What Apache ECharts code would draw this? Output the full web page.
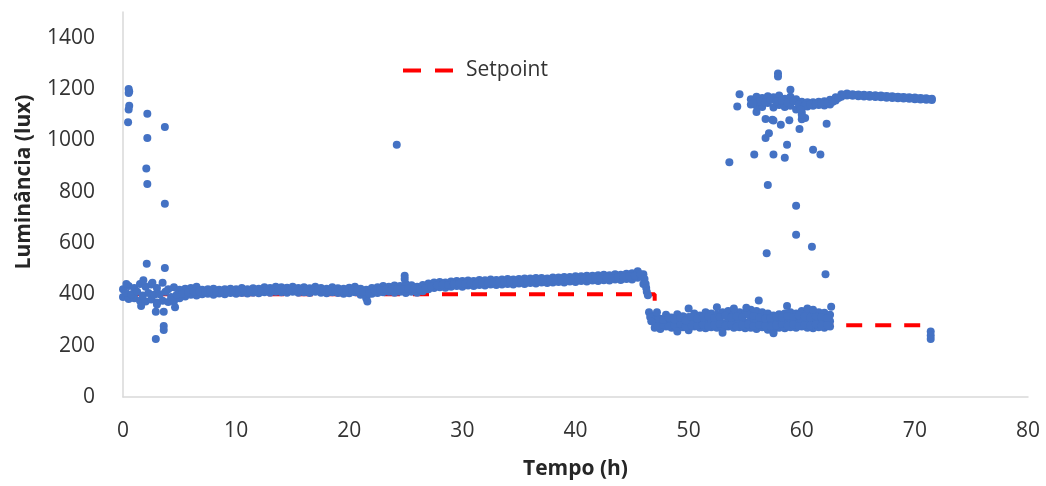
<!DOCTYPE html>
<html>
<head>
<meta charset="utf-8">
<script src="https://cdn.jsdelivr.net/npm/echarts@6/dist/echarts.min.js"></script>
<style>
  html, body { margin: 0; padding: 0; background: #fff; }
  #grafico { width: 1046px; height: 486px; }
</style>
</head>
<body>
<div id="grafico"></div>
<script>
// faixa principal (0 a 46 h)
const tempoFaixa1 = [0, 0.5, 1, 1.5, 2, 2.5, 3, 3.5, 4, 4.5, 5, 5.5, 6, 6.5, 7, 7.5, 8, 8.5, 9, 9.5,
  10, 10.5, 11, 11.5, 12, 12.5, 13, 13.5, 14, 14.5, 15, 15.5, 16, 16.5, 17, 17.5, 18, 18.5, 19, 19.5,
  20, 20.5, 21, 21.5, 22, 22.5, 23, 23.5, 24, 24.5, 25, 25.5, 26, 26.5, 27, 27.5, 28, 28.5, 29, 29.5,
  30, 30.5, 31, 31.5, 32, 32.5, 33, 33.5, 34, 34.5, 35, 35.5, 36, 36.5, 37, 37.5, 38, 38.5, 39, 39.5,
  40, 40.5, 41, 41.5, 42, 42.5, 43, 43.5, 44, 44.5, 45, 45.5, 46];
const lumFaixa1Baixo = [390, 382, 385, 375, 372, 380, 368, 375, 370, 372, 385, 392, 398, 395, 400, 402, 398, 403, 400, 405,
  402, 405, 403, 406, 404, 408, 406, 410, 408, 406, 410, 406, 408, 405, 410, 406, 404, 408, 405, 402,
  404, 408, 398, 385, 402, 405, 408, 410, 406, 410, 405, 410, 406, 412, 420, 425, 428, 426, 430, 432,
  430, 434, 432, 436, 434, 438, 436, 438, 440, 438, 442, 440, 444, 442, 446, 444, 446, 448, 446, 450,
  448, 452, 450, 454, 452, 455, 454, 458, 456, 460, 458, 465, 440];
const lumFaixa1Alto = [420, 432, 425, 440, 430, 438, 425, 445, 420, 428, 418, 422, 425, 430, 418, 420, 422, 418, 420, 422,
  420, 425, 420, 424, 422, 428, 425, 430, 428, 426, 430, 425, 428, 424, 430, 425, 422, 428, 424, 422,
  426, 430, 422, 418, 425, 428, 432, 430, 434, 432, 440, 435, 430, 436, 442, 446, 448, 446, 450, 452,
  452, 454, 452, 456, 455, 458, 456, 458, 460, 458, 460, 462, 462, 464, 464, 462, 466, 466, 468, 468,
  470, 470, 472, 472, 474, 476, 474, 478, 476, 480, 482, 490, 478];
const tempoFaixa1Meio = [0.25, 0.75, 1.25, 1.75, 2.25, 2.75, 3.25, 3.75, 4.25, 4.75,
  5.25, 5.75, 6.25, 6.75, 7.25, 7.75, 8.25, 8.75, 9.25, 9.75,
  10.25, 10.75, 11.25, 11.75, 12.25, 12.75, 13.25, 13.75, 14.25, 14.75,
  15.25, 15.75, 16.25, 16.75, 17.25, 17.75, 18.25, 18.75, 19.25, 19.75,
  20.25, 20.75, 21.25, 21.75, 22.25, 22.75, 23.25, 23.75, 24.25, 24.75,
  25.25, 25.75, 26.25, 26.75, 27.25, 27.75, 28.25, 28.75, 29.25, 29.75,
  30.25, 30.75, 31.25, 31.75, 32.25, 32.75, 33.25, 33.75, 34.25, 34.75,
  35.25, 35.75, 36.25, 36.75, 37.25, 37.75, 38.25, 38.75, 39.25, 39.75,
  40.25, 40.75, 41.25, 41.75, 42.25, 42.75, 43.25, 43.75, 44.25, 44.75,
  45.25, 45.75];
const lumFaixa1Meio = [405, 400, 410, 395, 405, 398, 400, 410, 390, 398,
  402, 408, 410, 412, 409, 411, 410, 412, 410, 414,
  411, 414, 412, 415, 413, 418, 416, 420, 418, 416,
  420, 416, 418, 414, 420, 416, 413, 418, 415, 412,
  415, 419, 410, 402, 414, 416, 420, 420, 420, 421,
  422, 422, 418, 424, 431, 435, 437, 436, 440, 442,
  441, 444, 442, 446, 444, 448, 446, 448, 450, 448,
  451, 451, 453, 453, 455, 453, 456, 457, 457, 459,
  459, 461, 461, 463, 463, 465, 464, 468, 466, 470,
  472, 478];

// faixa inferior (47 a 62,5 h)
const tempoFaixa2 = [47, 47.5, 48, 48.5, 49, 49.5, 50, 50.5, 51, 51.5, 52, 52.5, 53, 53.5, 54, 54.5,
  55, 55.5, 56, 56.5, 57, 57.5, 58, 58.5, 59, 59.5, 60, 60.5, 61, 61.5, 62, 62.5];
const lumFaixa2Baixo = [270, 265, 275, 270, 268, 272, 260, 275, 270, 268, 272, 270, 265, 275, 270, 272,
  268, 270, 265, 272, 262, 255, 270, 268, 272, 270, 275, 270, 268, 272, 270, 275];
const lumFaixa2Meio = [290, 285, 292, 288, 295, 290, 285, 295, 290, 292, 295, 290, 288, 300, 292, 295,
  290, 300, 295, 298, 290, 288, 292, 295, 290, 294, 298, 292, 295, 292, 290, 295];
const lumFaixa2Alto = [315, 305, 320, 310, 322, 315, 312, 325, 318, 330, 325, 320, 330, 335, 325, 330,
  328, 340, 335, 330, 325, 318, 322, 325, 330, 325, 335, 330, 325, 330, 328, 320];
const tempoFaixa2Inter = [47.25, 47.75, 48.25, 48.75, 49.25, 49.75, 50.25, 50.75, 51.25, 51.75,
  52.25, 52.75, 53.25, 53.75, 54.25, 54.75, 55.25, 55.75, 56.25, 56.75,
  57.25, 57.75, 58.25, 58.75, 59.25, 59.75, 60.25, 60.75, 61.25, 61.75, 62.25];
const lumFaixa2InterBaixo = [278, 282, 276, 280, 284, 275, 280, 278, 282, 276,
  280, 284, 278, 282, 276, 280, 283, 277, 281, 279,
  275, 280, 284, 278, 282, 277, 281, 279, 283, 278, 280];
const lumFaixa2InterAlto = [305, 300, 310, 302, 308, 298, 312, 306, 310, 315,
  308, 312, 318, 310, 314, 312, 320, 316, 310, 305,
  308, 312, 310, 316, 312, 318, 314, 310, 315, 312, 308];

// faixa superior (55,5 a 71,5 h)
const tempoFaixa3 = [55.5, 56, 56.5, 57, 57.5, 58, 58.5, 59, 59.5, 60, 60.5, 61, 61.5, 62, 62.5, 63,
  63.5, 64, 64.5, 65, 65.5, 66, 66.5, 67, 67.5, 68, 68.5, 69, 69.5, 70, 70.5, 71, 71.5];
const lumFaixa3Baixo = [1140, 1135, 1130, 1145, 1128, 1138, 1130, 1135, 1120, 1110, 1132, 1135, 1138, 1136, 1140, 1155,
  1170, 1175, 1174, 1172, 1171, 1170, 1169, 1168, 1166, 1165, 1164, 1163, 1162, 1160, 1159, 1158, 1157];
const lumFaixa3Alto = [1160, 1170, 1165, 1172, 1168, 1175, 1162, 1170, 1160, 1150, 1148, 1148, 1150, 1152, 1158, 1168,
  1180, 1182, 1180, 1179, 1178, 1177, 1176, 1175, 1173, 1172, 1170, 1169, 1168, 1167, 1165, 1164, 1162];
const tempoFaixa3Meio = [55.75, 56.25, 56.75, 57.25, 57.75, 58.25, 58.75, 59.25, 59.75, 60.25,
  60.75, 61.25, 61.75, 62.25, 62.75, 63.25, 63.75, 64.25, 64.75, 65.25,
  65.75, 66.25, 66.75, 67.25, 67.75, 68.25, 68.75, 69.25, 69.75, 70.25, 70.75, 71.25];
const lumFaixa3Meio = [1150, 1152, 1148, 1158, 1150, 1155, 1146, 1152, 1140, 1135,
  1140, 1142, 1144, 1145, 1150, 1165, 1177, 1178, 1177, 1175,
  1174, 1173, 1172, 1171, 1170, 1168, 1167, 1166, 1164, 1163, 1162, 1160];

// pontos isolados [tempo, luminancia]
const pontosIsolados = [
  [0.5, 1200], [0.55, 1190], [0.5, 1184], [0.55, 1135], [0.5, 1120], [0.45, 1070],
  [2.15, 1104], [2.15, 1009], [2.06, 890], [2.15, 830], [3.7, 1052], [3.7, 753], [24.2, 983],
  [2.1, 519], [3.7, 503], [2.6, 445], [2.9, 332], [3.6, 332], [3.6, 277], [3.6, 261], [2.9, 226],
  [4.6, 350], [1.6, 355], [3.0, 360], [0.3, 440], [1.8, 455], [21.6, 372], [24.9, 472], [24.9, 460],
  [46.1, 460], [46.2, 440], [46.25, 425], [46.3, 410], [46.4, 396], [46.5, 330], [46.6, 312], [46.7, 295],
  [71.4, 255], [71.4, 240], [71.4, 226],
  [54.5, 1180], [54.3, 1132], [53.6, 915], [57.9, 1260], [57.9, 1249], [59.0, 1197], [56.8, 1083],
  [57.4, 1080], [58.15, 1061], [58.9, 1078], [59.8, 1044], [56.8, 1009], [57.1, 1028], [58.7, 983],
  [55.8, 945], [57.5, 945], [58.5, 932], [61.0, 963], [61.65, 945], [62.2, 1065], [60.3, 1087],
  [57.0, 826], [59.5, 745], [59.5, 632], [60.9, 585], [56.9, 560], [62.1, 478], [55.7, 1145],
  [56.0, 1110], [57.5, 1077], [60.0, 1082], [60.0, 1100], [59.9, 1120],
  [56.2, 376], [55.1, 348], [62.6, 352], [47.2, 330], [50.0, 345], [52.5, 350], [58.7, 355],
  [60.5, 345], [53.0, 250], [57.5, 248], [49.0, 255], [61.0, 340], [54.0, 345]
];

// setpoint
const tempoSetpoint = [0, 47, 47, 71.5];
const lumSetpoint = [400, 400, 280, 280];

const ticksX = [0, 80];      // min / max eixo x
const ticksY = [0, 1500];    // min / max eixo y (1500 sem rotulo)

function pares(xs, ys) {
  return xs.map((x, i) => [x, ys[i]]);
}

const azul = '#4472C4';
const fonte = '"Open Sans", "Noto Sans", sans-serif';

function serieDispersao(dados) {
  return {
    type: 'scatter',
    symbol: 'circle',
    symbolSize: 8,
    itemStyle: { color: azul, opacity: 1 },
    z: 3,
    silent: true,
    data: dados
  };
}

const chart = echarts.init(document.getElementById('grafico'));

chart.setOption({
  animation: false,
  backgroundColor: '#fff',
  grid: { left: 123, right: 18, top: 12, bottom: 89, containLabel: false },
  legend: {
    data: [{ name: 'Setpoint', icon: 'path://M0,0h18v4H0z M32,0h18v4H32z' }],
    left: 398,
    top: 55,
    itemWidth: 50,
    itemHeight: 4,
    textStyle: { fontFamily: fonte, fontSize: 21, color: '#333', padding: [0, 0, 0, 8] }
  },
  xAxis: {
    type: 'value',
    min: ticksX[0],
    max: ticksX[1],
    interval: 10,
    splitLine: { show: false },
    axisTick: { show: false },
    axisLine: { show: true, lineStyle: { color: '#D9D9D9', width: 1.5 } },
    axisLabel: { fontFamily: fonte, fontSize: 21, color: '#333', margin: 24 },
    name: 'Tempo (h)',
    nameLocation: 'middle',
    nameGap: 62,
    nameTextStyle: { fontFamily: fonte, fontSize: 21, fontWeight: 'bold', color: '#262626' }
  },
  yAxis: {
    type: 'value',
    min: ticksY[0],
    max: ticksY[1],
    interval: 200,
    splitLine: { show: false },
    axisTick: { show: false },
    axisLine: { show: true, lineStyle: { color: '#D9D9D9', width: 1.5 } },
    axisLabel: {
      fontFamily: fonte, fontSize: 21, color: '#333', margin: 28, showMaxLabel: false,
      formatter: v => String(v)
    }
  },
  graphic: [{
    type: 'text',
    x: 24,
    y: 182,
    rotation: Math.PI / 2,
    style: {
      text: 'Luminância (lux)',
      font: 'bold 21px ' + fonte,
      fill: '#262626',
      align: 'center',
      verticalAlign: 'middle'
    }
  }],
  series: [
    {
      name: 'Setpoint',
      type: 'line',
      symbol: 'none',
      z: 1,
      silent: true,
      lineStyle: { color: '#FF0000', width: 4, type: [16, 13] },
      itemStyle: { color: '#FF0000' },
      data: pares(tempoSetpoint, lumSetpoint)
    },
    serieDispersao(pares(tempoFaixa1, lumFaixa1Baixo)),
    serieDispersao(pares(tempoFaixa1, lumFaixa1Alto)),
    serieDispersao(pares(tempoFaixa1Meio, lumFaixa1Meio)),
    serieDispersao(pares(tempoFaixa2, lumFaixa2Baixo)),
    serieDispersao(pares(tempoFaixa2, lumFaixa2Meio)),
    serieDispersao(pares(tempoFaixa2, lumFaixa2Alto)),
    serieDispersao(pares(tempoFaixa2Inter, lumFaixa2InterBaixo)),
    serieDispersao(pares(tempoFaixa2Inter, lumFaixa2InterAlto)),
    serieDispersao(pares(tempoFaixa3, lumFaixa3Baixo)),
    serieDispersao(pares(tempoFaixa3, lumFaixa3Alto)),
    serieDispersao(pares(tempoFaixa3Meio, lumFaixa3Meio)),
    serieDispersao(pontosIsolados)
  ]
});
</script>
</body>
</html>
